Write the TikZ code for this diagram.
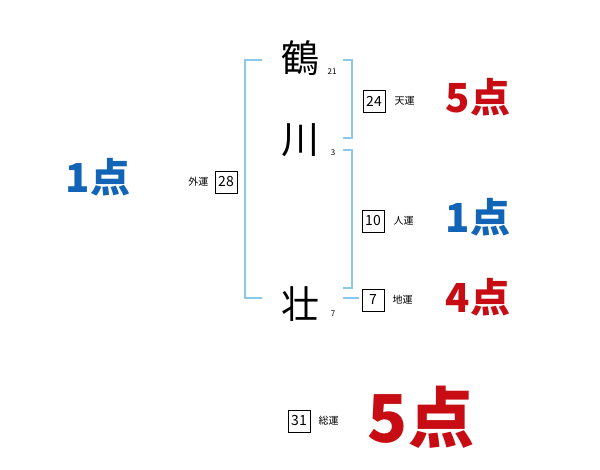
\documentclass[tikz,border=0pt]{standalone}
\usepackage{fontspec}
\newfontfamily\jp{Noto Sans CJK JP}
\usetikzlibrary{positioning}
\definecolor{bracketblue}{RGB}{140,200,232}
\definecolor{scorered}{RGB}{200,12,20}
\definecolor{scoreblue}{RGB}{18,100,182}
\tikzset{
  kanji/.style={font=\jp\fontsize{38}{38}\selectfont, inner sep=0pt},
  strokes/.style={font=\jp\fontsize{8}{8}\selectfont, inner sep=0pt},
  numbox/.style={draw, line width=0.8pt, minimum width=22pt, minimum height=22pt, inner sep=0pt, font=\jp\fontsize{14}{14}\selectfont},
  unlabel/.style={font=\jp\fontsize{10}{10}\selectfont, inner sep=0pt},
  score/.style={font=\jp\bfseries\fontsize{40}{40}\selectfont, inner sep=0pt},
  bracket/.style={bracketblue, line width=1.6pt}
}
\begin{document}
\begin{tikzpicture}[x=1pt,y=-1pt]
    \useasboundingbox (0,0) rectangle (600,470);
    % name characters
    \node[kanji] (tsuru) at (300,58) {鶴};
    \node[kanji] (kawa) at (300,140) {川};
    \node[kanji] (sou) at (300,304) {壮};
    \node[strokes] at (332,72) {21};
    \node[strokes] at (333,153) {3};
    \node[strokes] at (333,314) {7};
    % brackets
    \coordinate (gTop) at (262,60);
    \coordinate (gBot) at (262,298);
    \draw[bracket] (gTop) -- (245,60) -- (245,298) -- (gBot);
    \draw[bracket] (343,60) -- (352,60) -- (352,138) -- (343,138);
    \draw[bracket] (343,150) -- (352,150) -- (352,288) -- (343,288);
    \draw[bracket] (343,298) -- (359,298);
    % boxes
    \node[numbox] (ten) at (374,101) {24};
    \node[numbox] (jin) at (373,221) {10};
    \node[numbox] (chi) at (373,300) {7};
    \node[numbox] (gai) at (226,182) {28};
    \node[numbox] (sou31) at (299,421) {31};
    \node[unlabel, right=9pt of ten] {天運};
    \node[unlabel, right=9pt of jin] {人運};
    \node[unlabel, right=8pt of chi] {地運};
    \node[unlabel, left=6pt of gai] {外運};
    \node[unlabel, right=8pt of sou31] {総運};
    % scores
    \node[score, scorered] at (478,97) {5点};
    \node[score, scoreblue] at (478,217) {1点};
    \node[score, scorered] at (478,297) {4点};
    \node[score, scoreblue] at (98,177) {1点};
    \node[score, scorered, font=\jp\bfseries\fontsize{66}{66}\selectfont] at (421,417) {5点};
\end{tikzpicture}
\end{document}
